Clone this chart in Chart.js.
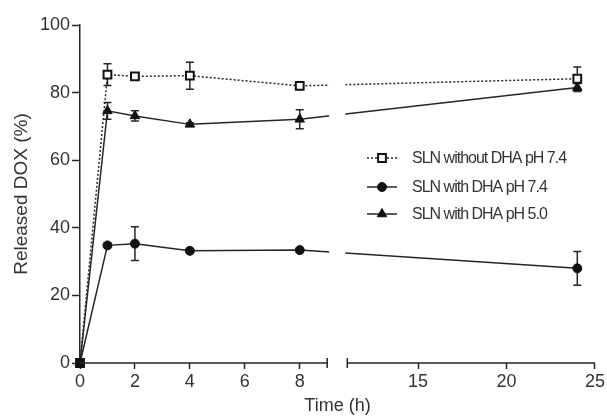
<!DOCTYPE html>
<html>
<head>
<meta charset="utf-8">
<script src="https://cdn.jsdelivr.net/npm/chart.js@4.4.1/dist/chart.umd.min.js"></script>
<style>
  html, body { margin: 0; padding: 0; background: #fff; }
  #wrap { width: 607px; height: 418px; }
</style>
</head>
<body>
<div id="wrap"><canvas id="chart" width="607" height="418"></canvas></div>
<script>
// data
const times = [0, 1, 2, 4, 8, 24];
const seriesNames = ['SLN without DHA pH 7.4', 'SLN with DHA pH 7.4', 'SLN with DHA pH 5.0'];
const noDha74 = [0, 85.3, 84.8, 85.0, 82.0, 84.1];
const noDha74Err = [0, 3.2, 0.8, 4.0, 1.0, 3.5];
const dha74 = [0, 34.8, 35.3, 33.2, 33.4, 28.0];
const dha74Err = [0, 0.6, 5.0, 0.5, 0.5, 5.0];
const dha50 = [0, 74.6, 73.1, 70.6, 72.1, 81.5];
const dha50Err = [0, 2.5, 1.5, 0.5, 2.8, 1.2];
const xTicks = [0, 2, 4, 6, 8, 15, 20, 25];
const xBreak = [9, 11];

const ink = '#262626';
const textCol = '#333';
const font = '"Liberation Sans", Arial, sans-serif';

// linear scale with a gap between xBreak[0] and xBreak[1]
class BrokenScale extends Chart.LinearScale {
  buildTicks() {
    return xTicks.map(v => ({ value: v }));
  }
  _frac(value) {
    const a = xBreak[0], b = xBreak[1], fa = 0.48, fb = 0.519;
    if (value <= a) return (value - this.min) / (a - this.min) * fa;
    if (value >= b) return fb + (value - b) / (this.max - b) * (1 - fb);
    return fa + (value - a) / (b - a) * (fb - fa);
  }
  getPixelForValue(value) {
    if (value === null || value === undefined || isNaN(value)) return NaN;
    return this.getPixelForDecimal(this._frac(value));
  }
  getValueForPixel(pixel) {
    const f = this.getDecimalForPixel(pixel);
    const a = xBreak[0], b = xBreak[1], fa = 0.48, fb = 0.519;
    if (f <= fa) return this.min + f / fa * (a - this.min);
    if (f >= fb) return b + (f - fb) / (1 - fb) * (this.max - b);
    return a + (f - fa) / (fb - fa) * (b - a);
  }
}
BrokenScale.id = 'broken';
BrokenScale.defaults = {};
Chart.register(BrokenScale);

const errors = [noDha74Err, dha74Err, dha50Err];

function pts(values) {
  return times.map((t, i) => ({ x: t, y: values[i] }));
}

// error bars under the markers
const errorBars = {
  id: 'errorBars',
  beforeDatasetsDraw(chart) {
    const ctx = chart.ctx, xs = chart.scales.x, ys = chart.scales.y;
    ctx.save();
    ctx.strokeStyle = ink;
    ctx.lineWidth = 1.5;
    chart.data.datasets.forEach((ds, di) => {
      ds.data.forEach((p, i) => {
        const e = errors[di][i];
        if (!e) return;
        const x = xs.getPixelForValue(p.x);
        const y1 = ys.getPixelForValue(p.y + e);
        const y2 = ys.getPixelForValue(p.y - e);
        ctx.beginPath();
        ctx.moveTo(x, y1); ctx.lineTo(x, y2);
        ctx.moveTo(x - 4, y1); ctx.lineTo(x + 4, y1);
        ctx.moveTo(x - 4, y2); ctx.lineTo(x + 4, y2);
        ctx.stroke();
      });
    });
    ctx.restore();
  }
};

// blank the break, draw the split x axis and the legend
const brokenAxis = {
  id: 'brokenAxis',
  afterDatasetsDraw(chart) {
    const ctx = chart.ctx, xs = chart.scales.x, area = chart.chartArea;
    const xa = xs.getPixelForValue(xBreak[0]), xb = xs.getPixelForValue(xBreak[1]);
    ctx.save();
    ctx.fillStyle = '#fff';
    ctx.fillRect(xa + 2, area.top - 10, (xb - xa) - 4, area.bottom - area.top + 8);
    const y = area.bottom;
    ctx.strokeStyle = ink;
    ctx.lineWidth = 1.5;
    ctx.beginPath();
    ctx.moveTo(xs.getPixelForValue(0), y); ctx.lineTo(xa, y);
    ctx.moveTo(xb, y); ctx.lineTo(xs.getPixelForValue(25), y);
    ctx.moveTo(xa, y - 5); ctx.lineTo(xa, y + 5);
    ctx.moveTo(xb, y - 5); ctx.lineTo(xb, y + 5);
    ctx.stroke();
    ctx.restore();
  },
  afterDraw(chart) {
    const ctx = chart.ctx;
    const rows = [158, 187, 214];
    ctx.save();
    chart.data.datasets.forEach((ds, i) => {
      const y = rows[i];
      ctx.strokeStyle = ds.borderColor;
      ctx.lineWidth = ds.borderWidth;
      ctx.setLineDash(ds.borderDash || []);
      ctx.beginPath();
      ctx.moveTo(367, y); ctx.lineTo(397, y);
      ctx.stroke();
      ctx.setLineDash([]);
      ctx.fillStyle = i === 0 ? '#fff' : '#111';
      ctx.strokeStyle = '#111';
      ctx.lineWidth = ds.pointBorderWidth;
      Chart.helpers.drawPoint(ctx, {
        pointStyle: ds.pointStyle, radius: ds.pointRadius, rotation: 0, borderWidth: ds.pointBorderWidth
      }, 382, y);
      ctx.fillStyle = textCol;
      ctx.font = '16px ' + font;
      ctx.letterSpacing = '-1px';
      ctx.textBaseline = 'middle';
      ctx.textAlign = 'left';
      ctx.fillText(ds.label, 412, y + 1);
      ctx.letterSpacing = '0px';
    });
    ctx.restore();
  }
};

new Chart(document.getElementById('chart').getContext('2d'), {
  type: 'line',
  data: {
    datasets: [
      {
        label: seriesNames[0], data: pts(noDha74),
        borderColor: ink, borderWidth: 1.5, borderDash: [2, 2],
        pointStyle: 'rect', pointRadius: 5.5, pointBorderWidth: 2,
        pointBackgroundColor: c => (c.raw && c.raw.y === 0 ? '#111' : '#fff'),
        pointBorderColor: '#111'
      },
      {
        label: seriesNames[1], data: pts(dha74),
        borderColor: ink, borderWidth: 1.5,
        pointStyle: 'circle', pointRadius: 4.5, pointBorderWidth: 1,
        pointBackgroundColor: '#111', pointBorderColor: '#111'
      },
      {
        label: seriesNames[2], data: pts(dha50),
        borderColor: ink, borderWidth: 1.5,
        pointStyle: 'triangle', pointRadius: 5.5, pointBorderWidth: 1,
        pointBackgroundColor: '#111', pointBorderColor: '#111'
      }
    ]
  },
  options: {
    responsive: false,
    animation: false,
    clip: false,
    layout: { padding: { left: 0, right: 11, top: 25, bottom: 0 } },
    plugins: { legend: { display: false }, tooltip: { enabled: false } },
    scales: {
      x: {
        type: 'broken', min: 0, max: 25,
        afterFit: s => { s.height = 55; },
        border: { display: false },
        grid: { drawOnChartArea: false, tickLength: 6, tickColor: ink, tickWidth: 1.5 },
        ticks: { color: textCol, font: { family: font, size: 18 }, padding: 2, callback: v => String(v) },
        title: { display: true, text: 'Time (h)', color: textCol, font: { family: font, size: 18 }, padding: { top: 0, bottom: 1 } }
      },
      y: {
        min: 0, max: 100,
        afterFit: s => { s.width = 80; },
        border: { color: ink, width: 1.5 },
        grid: { drawOnChartArea: false, tickLength: 8, tickColor: ink, tickWidth: 1.5 },
        ticks: { stepSize: 20, color: textCol, font: { family: font, size: 18 }, padding: 2 },
        title: { display: true, text: 'Released DOX (%)', color: textCol, font: { family: font, size: 19 }, padding: { top: 10, bottom: 0 } }
      }
    }
  },
  plugins: [errorBars, brokenAxis]
});
</script>
</body>
</html>
